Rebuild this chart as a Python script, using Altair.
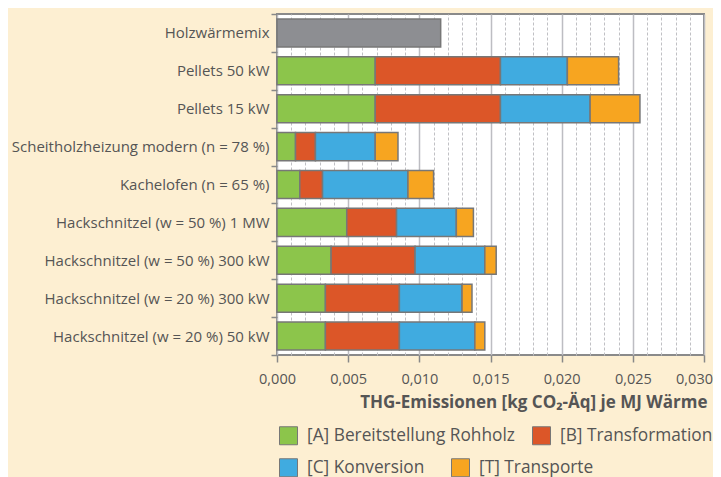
import altair as alt
import pandas as pd

categories = [
    "Holzwärmemix",
    "Pellets 50 kW",
    "Pellets 15 kW",
    "Scheitholzheizung modern (n = 78 %)",
    "Kachelofen (n = 65 %)",
    "Hackschnitzel (w = 50 %) 1 MW",
    "Hackschnitzel (w = 50 %) 300 kW",
    "Hackschnitzel (w = 20 %) 300 kW",
    "Hackschnitzel (w = 20 %) 50 kW",
]
series = ["[A] Bereitstellung Rohholz", "[B] Transformation", "[C] Konversion", "[T] Transporte"]
mix_label = "Holzwärmemix"
mix_value = 0.0115
val_A = [0.0, 0.0069, 0.0069, 0.0013, 0.0016, 0.0049, 0.0038, 0.0034, 0.0034]
val_B = [0.0, 0.0088, 0.0088, 0.0014, 0.0016, 0.0035, 0.0059, 0.0052, 0.0052]
val_C = [0.0, 0.0047, 0.0063, 0.0042, 0.0060, 0.0042, 0.0049, 0.0044, 0.0053]
val_T = [0.0, 0.0036, 0.0035, 0.0016, 0.0018, 0.0012, 0.0008, 0.0007, 0.0007]
colors = ["#8cc54b", "#dc5628", "#40abe0", "#f7a520", "#8d8e92"]
x_ticks = [i / 1000 for i in range(0, 31)]

rows = []
for ci, cat in enumerate(categories):
    for si, (s, vals) in enumerate(zip(series, [val_A, val_B, val_C, val_T])):
        if vals[ci] > 0:
            rows.append({"cat": cat, "series": s, "value": vals[ci], "ord": si})
rows.append({"cat": mix_label, "series": mix_label, "value": mix_value, "ord": 0})
df = pd.DataFrame(rows)

FONT = "Open Sans"
TXT = "#555555"
MAJOR = "round(datum.value*1000) % 5 == 0"

y_enc = alt.Y("cat:N", sort=categories, title=None,
              scale=alt.Scale(paddingInner=0, paddingOuter=0),
              axis=alt.Axis(tickBand="extent", labelFontSize=15, labelColor=TXT,
                            labelFont=FONT, labelPadding=2, labelLimit=400, tickSize=6,
                            tickColor="#888888", tickWidth=1.5, domain=False, grid=False))
x_axis = alt.Axis(values=x_ticks,
                  labelExpr=MAJOR + " ? replace(format(datum.value, '.3f'), '.', ',') : ''",
                  labelFontSize=14.5, labelColor=TXT, labelFont=FONT, labelPadding=10,
                  labelFlush=False,
                  labelOffset={"condition": {"test": "datum.value > 0.0295", "value": -10}, "value": 0},
                  tickSize=7, tickColor="#888888", tickWidth=1.5,
                  tickOpacity={"condition": {"test": MAJOR, "value": 1}, "value": 0},
                  grid=True,
                  gridColor={"condition": {"test": MAJOR, "value": "#bdbdc2"}, "value": "#c0c0c4"},
                  gridWidth={"condition": {"test": MAJOR, "value": 1.5}, "value": 1},
                  gridDash={"condition": {"test": MAJOR, "value": [1, 0]}, "value": [3, 2]},
                  domain=False,
                  titleFont=FONT, titleFontSize=17, titleFontWeight="bold", titleColor=TXT,
                  titleAnchor="end", titleAlign="right", titleX=430, titlePadding=9)
x_enc = alt.X("x0:Q", scale=alt.Scale(domain=[0, 0.03], nice=False, zero=True),
              title="THG-Emissionen [kg CO₂-Äq] je MJ Wärme", axis=x_axis)


def legend(vals, ly, cpad):
    return alt.Legend(values=vals, title=None, orient="none", legendX=2, legendY=ly,
                      direction="horizontal", columns=2,
                      symbolType="square", symbolSize=324, symbolStrokeColor="#777777",
                      symbolStrokeWidth=1, symbolOpacity=1, labelFontSize=17.3,
                      labelColor=TXT, labelFont=FONT, labelOffset=9,
                      columnPadding=cpad, labelLimit=400)


base = alt.Chart(df).transform_stack(
    stack="value", as_=["x0", "x1"], groupby=["cat"], sort=[alt.SortField("ord", order="ascending")]
)
bar = dict(stroke="#777777", strokeWidth=1.5, height=alt.RelativeBandSize(0.74))

layer1 = base.transform_filter(
    alt.FieldOneOfPredicate(field="series", oneOf=series[:2])
).mark_bar(**bar).encode(
    y=y_enc, x=x_enc, x2="x1:Q",
    color=alt.Color("series:N", scale=alt.Scale(domain=series[:2], range=colors[:2]),
                    legend=legend(series[:2], 412, 15)),
)
layer2 = base.transform_filter(
    alt.FieldOneOfPredicate(field="series", oneOf=series[2:] + [mix_label])
).mark_bar(**bar).encode(
    y=y_enc, x=x_enc, x2="x1:Q",
    color=alt.Color("series:N", scale=alt.Scale(domain=series[2:] + [mix_label], range=colors[2:]),
                    legend=legend(series[2:], 444, 24)),
)

chart = alt.layer(layer1, layer2).resolve_scale(color="independent").properties(
    width=427, height=341,
    autosize=alt.AutoSizeParams(type="none"),
    padding={"left": 269, "top": 6, "right": 9, "bottom": 122},
    background="#fdefd2",
).configure_view(
    fill="white", stroke="#8a8a8a", strokeWidth=2
)

chart.save("out.html", embed_options={"renderer": "svg", "actions": False})
